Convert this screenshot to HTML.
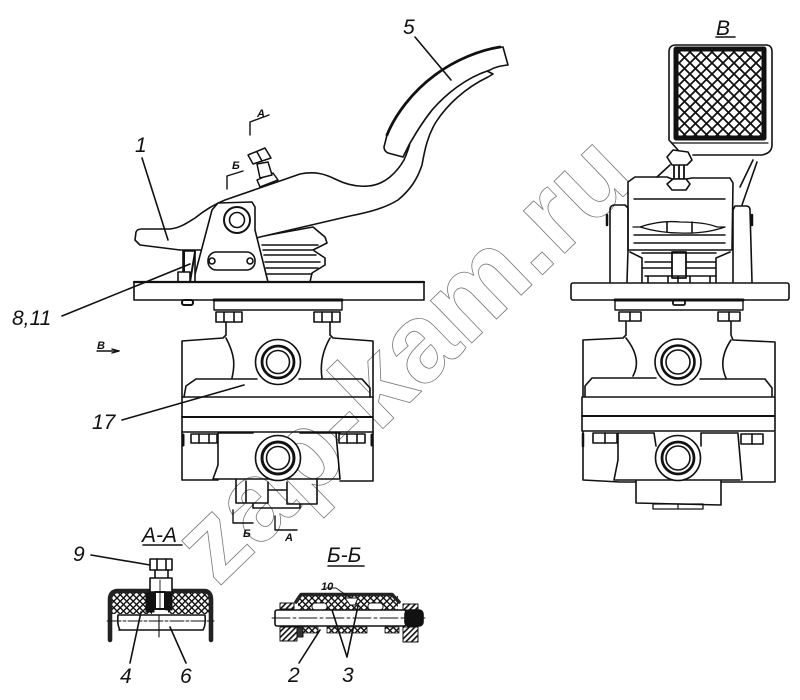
<!DOCTYPE html>
<html><head><meta charset="utf-8"><style>
html,body{margin:0;padding:0;background:#fff}
svg{display:block}
.l{font-family:"Liberation Sans",sans-serif;font-style:italic;font-size:21px;fill:#111}
.s{font-family:"Liberation Sans",sans-serif;font-style:italic;font-size:11px;font-weight:bold;fill:#111}
</style></head><body>
<svg width="800" height="700" viewBox="0 0 800 700" xmlns="http://www.w3.org/2000/svg">
<defs>
<pattern id="m" width="11" height="11" patternUnits="userSpaceOnUse" patternTransform="translate(679 52)">
<rect width="11" height="11" fill="#fff"/><path d="M0 0L11 11M11 0L0 11" stroke="#111" stroke-width="1.8"/></pattern>
<pattern id="m2" width="6.5" height="6.5" patternUnits="userSpaceOnUse">
<rect width="6.5" height="6.5" fill="#fff"/><path d="M0 0L6.5 6.5M6.5 0L0 6.5" stroke="#111" stroke-width="1.4"/></pattern>
<pattern id="h" width="4" height="4" patternUnits="userSpaceOnUse" patternTransform="rotate(-45)">
<rect width="4" height="4" fill="#fff"/><rect width="4" height="1.6" fill="#111"/></pattern>
</defs>
<rect width="800" height="700" fill="#fff"/>

<!-- watermark -->
<text transform="translate(218 588) rotate(-44)" font-family="Liberation Sans,sans-serif" font-weight="bold" font-size="112" textLength="585" lengthAdjust="spacingAndGlyphs" fill="none" stroke="#777" stroke-width="0.8">zap-kam.ru</text>

<g fill="none" stroke="#111" stroke-width="1.6" stroke-linejoin="round" stroke-linecap="round">
<!-- bellows left -->
<path d="M258 237L313 227L325 237L327 243L313 250L325 258V265L312 273L310 282" fill="#fff"/>
<path d="M262 245H318M263 250H312M264 255H316M265 262H320M266 268H318M267 274H312" stroke-width="1.5"/>
<!-- lever -->
<path d="M135 240L136 232Q137 229 142 229H170C180 228 187 223 195 218C205 210 215 204 225 200L277 182L300 174C315 171 325 174 335 179C347 185 358 187 368 186C385 185 397 172 404 160C407 153 409 148 410 143C415 135 420 125 432 110C445 95 465 78 487 71L493 74L488 77C465 88 447 105 436 122C428 135 425 148 422 165C417 180 410 190 398 200C385 208 370 212 350 216L260 237L220 250L180 250L140 245Z" fill="#fff"/>
<!-- pad -->
<path d="M384 147L387 135C395 115 412 92 435 75C455 60 480 50 503 47L508 65C500 66 495 67 490 70C465 78 445 95 432 110C420 125 415 135 410 143L403 157L388 153Q384 151 384 147Z" fill="#fff"/>
<path d="M387 135C395 115 412 92 435 75C455 60 480 50 500 47" stroke-width="2.8"/>
<!-- screw -->
<g fill="#fff" stroke-width="1.5">
<path d="M257 180L273 173L278 180L260 187Z"/>
<path d="M257 164L268 162L272 175L260 178Z"/>
<path d="M248 155L265 148L271 158L253 164Z"/><path d="M257 152L262 161"/>
</g>
<!-- bracket -->
<path d="M193 282L212 210L218 203L252 202L255 207L255 230L268 282" fill="#fff"/>
<circle cx="237" cy="220" r="13" fill="#fff" stroke-width="2"/><circle cx="237" cy="220" r="7.5" fill="#fff"/>
<rect x="208" y="252" width="47" height="18" rx="8.5" fill="#fff"/>
<circle cx="212" cy="261" r="3"/><circle cx="250" cy="261" r="3"/>
<!-- spring 8,11 -->
<rect x="183" y="251" width="12" height="31" fill="#fff"/><path d="M184 251V282M195 252L190 282" stroke-width="2"/>
<path d="M178 272H190V282H178Z" fill="#fff"/>
<!-- plate -->
<rect x="134" y="282" width="290" height="18" fill="#fff"/>
<path d="M134 282H424" stroke-width="2.2"/>
<rect x="182" y="300" width="11" height="5" rx="2" stroke-width="2"/>
<rect x="214" y="300" width="128" height="10" stroke-width="1.4"/><path d="M214 300H342" stroke-width="3"/>
<rect x="216" y="312" width="26" height="10"/><path d="M224 312V322M234 312V322"/>
<rect x="314" y="312" width="26" height="10"/><path d="M322 312V322M332 312V322"/>

<!-- left body -->
<path d="M226 322V335L223 338L182 341V397M330 322V335L333 338L373 341V397"/>
<path d="M226 338C235 355 235 365 232 378M330 338C322 352 320 365 322 378"/>
<path d="M184 397L186 386L196 379H257M299 379H362L370 388V397"/>
<path d="M182 397H373V432H182Z"/><path d="M182 417H372" stroke-width="2"/>
<path d="M182 432V480H218M373 432V481H340"/>
<path d="M219 433H253M300 433H340"/><path d="M218 433V465L213 479H340L336 433"/>
<path d="M183 435V445" stroke-width="3"/><path d="M372 435V445" stroke-width="3"/>
<rect x="191" y="434" width="26" height="9"/><path d="M199 434V443M209 434V443"/>
<rect x="339" y="434" width="26" height="9"/><path d="M347 434V443M357 434V443"/>
<circle cx="278" cy="362" r="22.5" fill="#fff"/><circle cx="278" cy="362" r="16" stroke-width="2.8"/><circle cx="278" cy="362" r="11.5"/>
<circle cx="278" cy="458" r="22.5" fill="#fff"/><circle cx="278" cy="458" r="16" stroke-width="3"/><circle cx="278" cy="458" r="11.5"/>
<path d="M236 479V503H268V482M246 481V503M287 482V504H317V479M268 490H287M253 504V508H300V504"/>

<!-- right view: pad -->
<path d="M669 52Q669 45 676 45H766Q772 45 772 52V145Q772 153 762 155H693M669 52V140L678 150" />
<rect x="676" y="49" width="88" height="89" fill="url(#m)" stroke="#111" stroke-width="5"/>
<path d="M672 143H768" stroke-width="1.2"/>
<path d="M753 160L740 187M757 162L742 205" />
<!-- right head -->
<path d="M628 250V182L635 177H667L672 179H686L692 178H730L733 183L732 250Z" fill="#fff"/>
<path d="M634 199H725M634 235H725M634 243H725" stroke-width="1.4"/>
<path d="M633 227H640Q660 220 680 222Q705 222 717 227H725Q705 234 680 233Q660 233 640 227" stroke-width="1.3"/>
<path d="M667 222V232M692 222V232"/>
<!-- screw right -->
<path d="M667 157L673 150L688 152L692 160L687 165H672Z" fill="#fff"/>
<path d="M674 166V178M684 166V178M679 166V178" stroke-width="1.8"/>
<path d="M667 184L673 179H686L690 184L686 190H672Z" fill="#fff"/>
<path d="M657 177L670 165"/>
<path d="M610 282L610 210Q610 205 615 205H625L628 208L628 250L627 282M752 282L750 210Q750 206 746 206H735L733 210V282"/>
<path d="M607 215V225M752 215V225" stroke-width="2.5"/>
<path d="M630 252L642 258V282M730 252L716 258V282M642 253H716M645 262H672M686 262H716M642 268H672M686 268H716"/>
<rect x="672" y="252" width="14" height="26" stroke-width="1.8"/>
<path d="M645 276H716M648 276V282M668 276V282M678 276V282M690 276V282M710 276V282"/>
<!-- right plate -->
<rect x="571" y="283" width="218" height="17" rx="2" fill="#fff"/>
<rect x="615" y="300" width="128" height="10" stroke-width="1.4"/><path d="M615 300H743" stroke-width="3"/>
<rect x="673" y="300" width="12" height="5" rx="1.5" stroke-width="1.8"/>
<rect x="619" y="312" width="22" height="9"/><path d="M630 312V321"/>
<rect x="718" y="312" width="22" height="9"/><path d="M729 312V321"/>
<!-- right body -->
<path d="M626 322V335L623 338L583 340V396M731 322V335L733 340L775 342V396"/>
<path d="M626 338C637 352 639 365 633 376M731 340C723 352 720 365 726 378"/>
<path d="M585 396V386L592 378H656M700 379H765L772 388V396"/>
<path d="M582 397H775V431H582Z"/><path d="M582 416H774" stroke-width="2"/>
<path d="M583 432V480L620 482H636M775 432V482H721"/>
<path d="M618 433H654M701 433H738"/><path d="M618 433V460L614 480M738 434L742 480M654 433L656 446M701 433V446"/>
<path d="M583 434V446" stroke-width="2.5"/>
<rect x="593" y="433" width="24" height="10"/><path d="M605 433V443"/>
<rect x="741" y="434" width="22" height="10"/><path d="M752 434V444"/>
<path d="M615 480H740"/>
<circle cx="678" cy="362" r="23" fill="#fff"/><circle cx="678" cy="362" r="16.5" stroke-width="2.6"/><circle cx="678" cy="362" r="12"/>
<circle cx="678" cy="458" r="22.5" fill="#fff"/><circle cx="678" cy="458" r="16" stroke-width="2.8"/><circle cx="678" cy="458" r="12"/>
<path d="M636 481V503L721 505V481"/>
<rect x="653" y="504" width="50" height="5" stroke-width="1.3"/><path d="M678 504V509" stroke-width="1.2"/>

<!-- section A-A -->
<rect x="112" y="592" width="40" height="22" fill="url(#m2)" stroke="none"/>
<rect x="168" y="592" width="42" height="22" fill="url(#m2)" stroke="none"/>
<path d="M110 640V600Q110 591 118 591H204Q211 591 211 600V640" stroke="#222" stroke-width="4.6" stroke-dasharray="2.4 .7"/>
<path d="M146 593H154V612H146ZM166 593H172V610H166Z" fill="#111" stroke-width="1"/>
<path d="M118 615H205M119 630H203M118 615Q117 625 120 630M205 615Q206 625 203 630" fill="#fff"/>
<path d="M107 621H214" stroke-width="0.9" stroke-dasharray="14 2 3 2"/>
<path d="M159 615V637" stroke-width="1.1"/>
<rect x="150" y="559" width="22" height="11" fill="#fff" stroke-width="1.6"/><path d="M157 559V570M166 559V570"/>
<path d="M155 570V578M168 570V578"/>
<rect x="150" y="578" width="22" height="14" fill="#fff"/>
<path d="M155 592H165V609H155Z" fill="#fff" stroke-width="2"/><path d="M160 580V608" stroke-width="0.9"/>

<!-- section B-B -->
<rect x="298" y="596" width="100" height="14" fill="url(#m2)" stroke="none"/>
<path d="M296 602L301 594.5H392L399 602" stroke="#222" stroke-width="3.6" stroke-dasharray="2.4 .7"/>
<rect x="312" y="603" width="15" height="7" rx="3" fill="#fff" stroke-width="1"/>
<rect x="368" y="603" width="15" height="7" rx="3" fill="#fff" stroke-width="1"/>
<path d="M345 598H358L355 605H350Z" fill="#fff" stroke-width="1"/>
<rect x="280" y="603" width="14" height="6" fill="url(#h)" stroke-width="1"/>
<rect x="403" y="604" width="15" height="6" fill="url(#h)" stroke-width="1"/>
<rect x="275" y="610" width="131" height="16" fill="#fff" rx="2"/>
<path d="M272 618H425" stroke-width="0.9" stroke-dasharray="18 3 3 3"/>
<rect x="405" y="610" width="18" height="16" rx="4" fill="#111"/>
<rect x="280" y="627" width="17" height="14" fill="url(#h)" stroke-width="1"/>
<rect x="403" y="627" width="15" height="15" fill="url(#h)" stroke-width="1"/>
<rect x="297" y="627" width="6" height="10" fill="#333" stroke-width="1"/>
<rect x="303" y="627" width="15" height="6" fill="url(#m2)" stroke-width="0.8"/>
<rect x="327" y="627" width="40" height="6" fill="url(#m2)" stroke-width="0.8"/>
<rect x="385" y="627" width="14" height="6" fill="url(#m2)" stroke-width="0.8"/>

<!-- leaders -->
<g stroke-width="1.6">
<path d="M415 37L451 80"/>
<path d="M142 158L168 240"/>
<path d="M62 316L190 264"/>
<path d="M122 420L244 385"/>
<path d="M91 555L150 565"/>
<path d="M130 663L141 612"/>
<path d="M186 663L170 627"/>
<path d="M299 663L320 630"/>
<path d="M347 657L332 610M347 657L358 606"/>
<path d="M326 588H336L349 597" stroke-width="0.9"/>
</g>
<!-- section marks -->
<g stroke-width="1.4">
<path d="M250 135V122L269 115"/>
<path d="M227 189V176L243 171"/>
<path d="M233 510V523H253"/><path d="M275 516V530H297"/>
<path d="M97 351H119" /><path d="M112 349L119 351L112 353"/>
<path d="M143 545H182M328 566H364M716 37H735" stroke-width="1.6"/>
</g>
</g>

<!-- labels -->
<text class="l" x="403" y="34">5</text>
<text class="l" x="135" y="152">1</text>
<text class="l" x="12" y="325">8,11</text>
<text class="l" x="92" y="429">17</text>
<text class="l" x="716" y="35">В</text>
<text class="l" x="73" y="561">9</text>
<text class="l" x="142" y="542">А-А</text>
<text class="l" x="327" y="562">Б-Б</text>
<text class="l" x="120" y="683">4</text>
<text class="l" x="180" y="683">6</text>
<text class="l" x="288" y="682">2</text>
<text class="l" x="342" y="682">3</text>
<text class="s" x="321" y="590" font-size="10">10</text>
<text class="s" x="257" y="117">А</text>
<text class="s" x="232" y="169">Б</text>
<text class="s" x="243" y="537">Б</text>
<text class="s" x="285" y="541">А</text>
<text class="s" x="97" y="349">В</text>
</svg>
</body></html>
